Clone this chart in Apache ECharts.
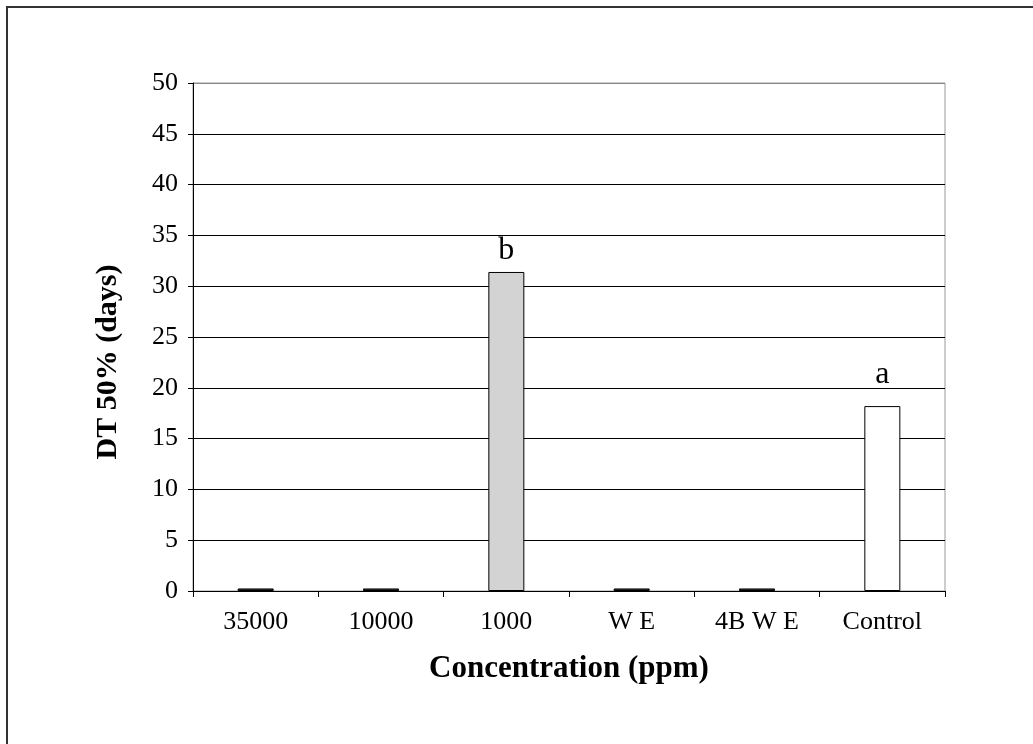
<!DOCTYPE html>
<html>
<head>
<meta charset="utf-8">
<script src="https://cdn.jsdelivr.net/npm/echarts@6/dist/echarts.min.js"></script>
<style>
  html, body { margin: 0; padding: 0; background: #fff; }
  #chart { width: 1033px; height: 744px; }
</style>
</head>
<body>
<div id="chart"></div>
<script>
// 数据
const categories = ['35000', '10000', '1000', 'W E', '4B W E', 'Control']
const dtValues = [0.25, 0.25, 31.4, 0.25, 0.25, 18.2]
const barColors = ['#333333', '#333333', '#d3d3d3', '#333333', '#333333', '#ffffff']
const letters = ['', '', 'b', '', '', 'a']
const letterGap = [0, 0, 5, 0, 0, 15]
const yTicks = { min: 0, max: 50, interval: 5 }

const font = '"Liberation Serif", "Times New Roman", serif'

const chart = echarts.init(document.getElementById('chart'))

// 网格线颜色：最上面一条是灰色边框
const gridCount = yTicks.max / yTicks.interval
const splitColors = []
for (let i = 0; i <= gridCount; i++) splitColors.push(i === gridCount ? '#888' : '#000')

const option = {
    animation: false,
    backgroundColor: '#fff',
    grid: {
        left: 193, right: 88, top: 83, bottom: 153,
        show: true, borderColor: '#999', borderWidth: 1
    },
    graphic: [{
        type: 'rect',
        shape: { x: 7, y: 7, width: 1100, height: 800 },
        style: { fill: 'none', stroke: '#333', lineWidth: 2 },
        silent: true
    }],
    xAxis: {
        type: 'category',
        data: categories,
        name: 'Concentration (ppm)',
        nameLocation: 'middle',
        nameGap: 62,
        nameTextStyle: { fontFamily: font, fontSize: 31, fontWeight: 'bold', color: '#000' },
        axisLine: { lineStyle: { color: '#000', width: 1 } },
        axisTick: { show: true, length: 6, lineStyle: { color: '#000' } },
        axisLabel: { fontFamily: font, fontSize: 26, color: '#000', margin: 18 }
    },
    yAxis: {
        type: 'value',
        min: yTicks.min, max: yTicks.max, interval: yTicks.interval,
        name: 'DT 50% (days)',
        nameLocation: 'middle',
        nameGap: 70,
        nameTextStyle: { fontFamily: font, fontSize: 30, fontWeight: 'bold', color: '#000', padding: [0, 50, 0, 0] },
        axisLine: { show: true, lineStyle: { color: '#000', width: 1 } },
        axisTick: { show: true, length: 5, lineStyle: { color: '#000' } },
        axisLabel: { fontFamily: font, fontSize: 26, color: '#000', margin: 15 },
        splitLine: { show: true, lineStyle: { color: splitColors, width: 1 } }
    },
    series: [{
        type: 'bar',
        barWidth: 36,
        data: dtValues.map((v, i) => ({
            value: v,
            itemStyle: { color: barColors[i], borderColor: '#000', borderWidth: 1 },
            label: {
                show: letters[i] !== '',
                position: 'top',
                distance: letterGap[i],
                formatter: letters[i],
                fontFamily: font,
                fontSize: 32,
                color: '#000'
            }
        }))
    }]
}

chart.setOption(option)
</script>
</body>
</html>
